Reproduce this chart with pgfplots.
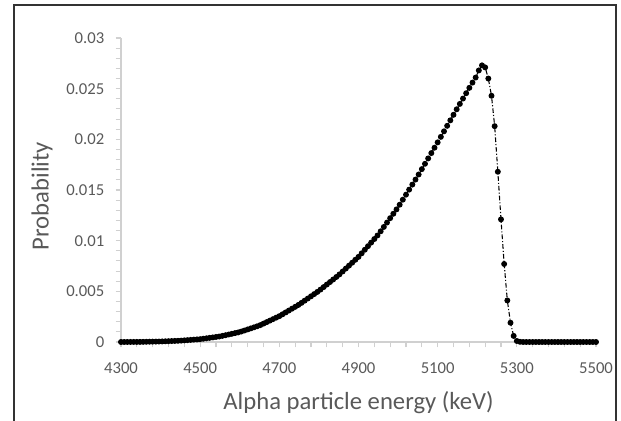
\documentclass[border=0pt]{standalone}
\usepackage{pgfplots}
\pgfplotsset{compat=1.18}
\usepackage{pgfplotstable}
\usepackage{fontspec}
\setmainfont{Carlito}
\usetikzlibrary{calc}
\definecolor{txtgray}{HTML}{595959}
\definecolor{axgray}{HTML}{D0D0D0}

% energy (keV) vs probability
\pgfplotstableread{
x y
4300 0
4308 0.000002
4316 0.000003
4324 0.000005
4332 0.000006
4340 0.000008
4348 0.000010
4356 0.000015
4364 0.000021
4372 0.000028
4380 0.000034
4388 0.000040
4396 0.000047
4404 0.000056
4412 0.000069
4420 0.000082
4428 0.000095
4436 0.000107
4444 0.000120
4452 0.000136
4460 0.000160
4468 0.000184
4476 0.000208
4484 0.000232
4492 0.000256
4500 0.000280
4508 0.000323
4516 0.000366
4524 0.000410
4532 0.000453
4540 0.000496
4548 0.000539
4556 0.000602
4564 0.000670
4572 0.000739
4580 0.000808
4588 0.000877
4596 0.000946
4604 0.001032
4612 0.001136
4620 0.001240
4628 0.001344
4636 0.001448
4644 0.001552
4652 0.001667
4660 0.001814
4668 0.001961
4676 0.002108
4684 0.002256
4692 0.002403
4700 0.002550
4708 0.002734
4716 0.002918
4724 0.003102
4732 0.003286
4740 0.003470
4748 0.003654
4756 0.003862
4764 0.004078
4772 0.004294
4780 0.004510
4788 0.004726
4796 0.004942
4804 0.005174
4812 0.005422
4820 0.005670
4828 0.005918
4836 0.006166
4844 0.006414
4852 0.006672
4860 0.006960
4868 0.007248
4876 0.007536
4884 0.007824
4892 0.008112
4900 0.008400
4908 0.008752
4916 0.009104
4924 0.009456
4932 0.009808
4940 0.010160
4948 0.010512
4956 0.010924
4964 0.011356
4972 0.011788
4980 0.012220
4988 0.012652
4996 0.013084
5004 0.013548
5012 0.014044
5020 0.014540
5028 0.015036
5036 0.015532
5044 0.016028
5052 0.016532
5060 0.017060
5068 0.017588
5076 0.018116
5084 0.018644
5092 0.019172
5100 0.019700
5108 0.020244
5116 0.020788
5124 0.021332
5132 0.021876
5140 0.022420
5148 0.022964
5156 0.023496
5164 0.024024
5172 0.024552
5180 0.025080
5188 0.025600
5196 0.026100
5204 0.026800
5212 0.027300
5220 0.027100
5228 0.026000
5236 0.024300
5244 0.021300
5252 0.016800
5260 0.012100
5268 0.007700
5276 0.004100
5284 0.001900
5292 0.000600
5300 0.000100
5308 0.000020
5316 0
5324 0
5332 0
5340 0
5348 0
5356 0
5364 0
5372 0
5380 0
5388 0
5396 0
5404 0
5412 0
5420 0
5428 0
5436 0
5444 0
5452 0
5460 0
5468 0
5476 0
5484 0
5492 0
5500 0
}\spectrum

\begin{document}
\begin{tikzpicture}
\begin{axis}[
  name=ax,
  scale only axis,
  width=356.25pt, height=228pt,
  xmin=4300, xmax=5500, ymin=0, ymax=0.03,
  clip=false,
  axis lines=left,
  axis line style={axgray, line width=0.9pt, -},
  xtick={4300,4500,4700,4900,5100,5300,5500},
  ytick={0,0.005,0.01,0.015,0.02,0.025,0.03},
  minor x tick num=4, minor y tick num=4,
  tick align=outside,
  tick style={axgray, line width=0.8pt},
  major tick length=4pt, minor tick length=4pt,
  ticklabel style={font=\fontsize{12.5}{14}\selectfont, color=txtgray},
  /pgf/number format/assume math mode=true,
  scaled y ticks=false,
  yticklabel style={/pgf/number format/fixed, /pgf/number format/precision=3, xshift=-5pt},
  xticklabel style={/pgf/number format/set thousands separator={}, yshift=-8pt},
  xlabel={Alpha particle energy (keV)},
  ylabel={Probability},
  label style={font=\fontsize{18.5}{22}\selectfont, color=txtgray},
  xlabel style={at={(axis description cs:0.5,-0.20)}, anchor=center},
  ylabel style={at={(axis description cs:-0.166,0.48)}, anchor=center},
]
\addplot[black, line width=0.8pt, dash pattern=on 3.5pt off 1.5pt on 0.8pt off 1.5pt,
  mark=*, mark size=1.8pt, mark options={solid, fill=black}] table[x=x, y=y] {\spectrum};
\end{axis}
\draw[black!80, line width=1.1pt]
  ($(ax.south west)+(-80.25pt,-70pt)$) -- ($(ax.north west)+(-80.25pt,24.75pt)$)
  -- ($(ax.north east)+(15pt,24.75pt)$) -- ($(ax.south east)+(15pt,-70pt)$);
\pgfresetboundingbox
\path[use as bounding box] ($(ax.south west)+(-90.75pt,-59.25pt)$) rectangle ($(ax.north east)+(18.75pt,28.5pt)$);
\end{tikzpicture}
\end{document}
